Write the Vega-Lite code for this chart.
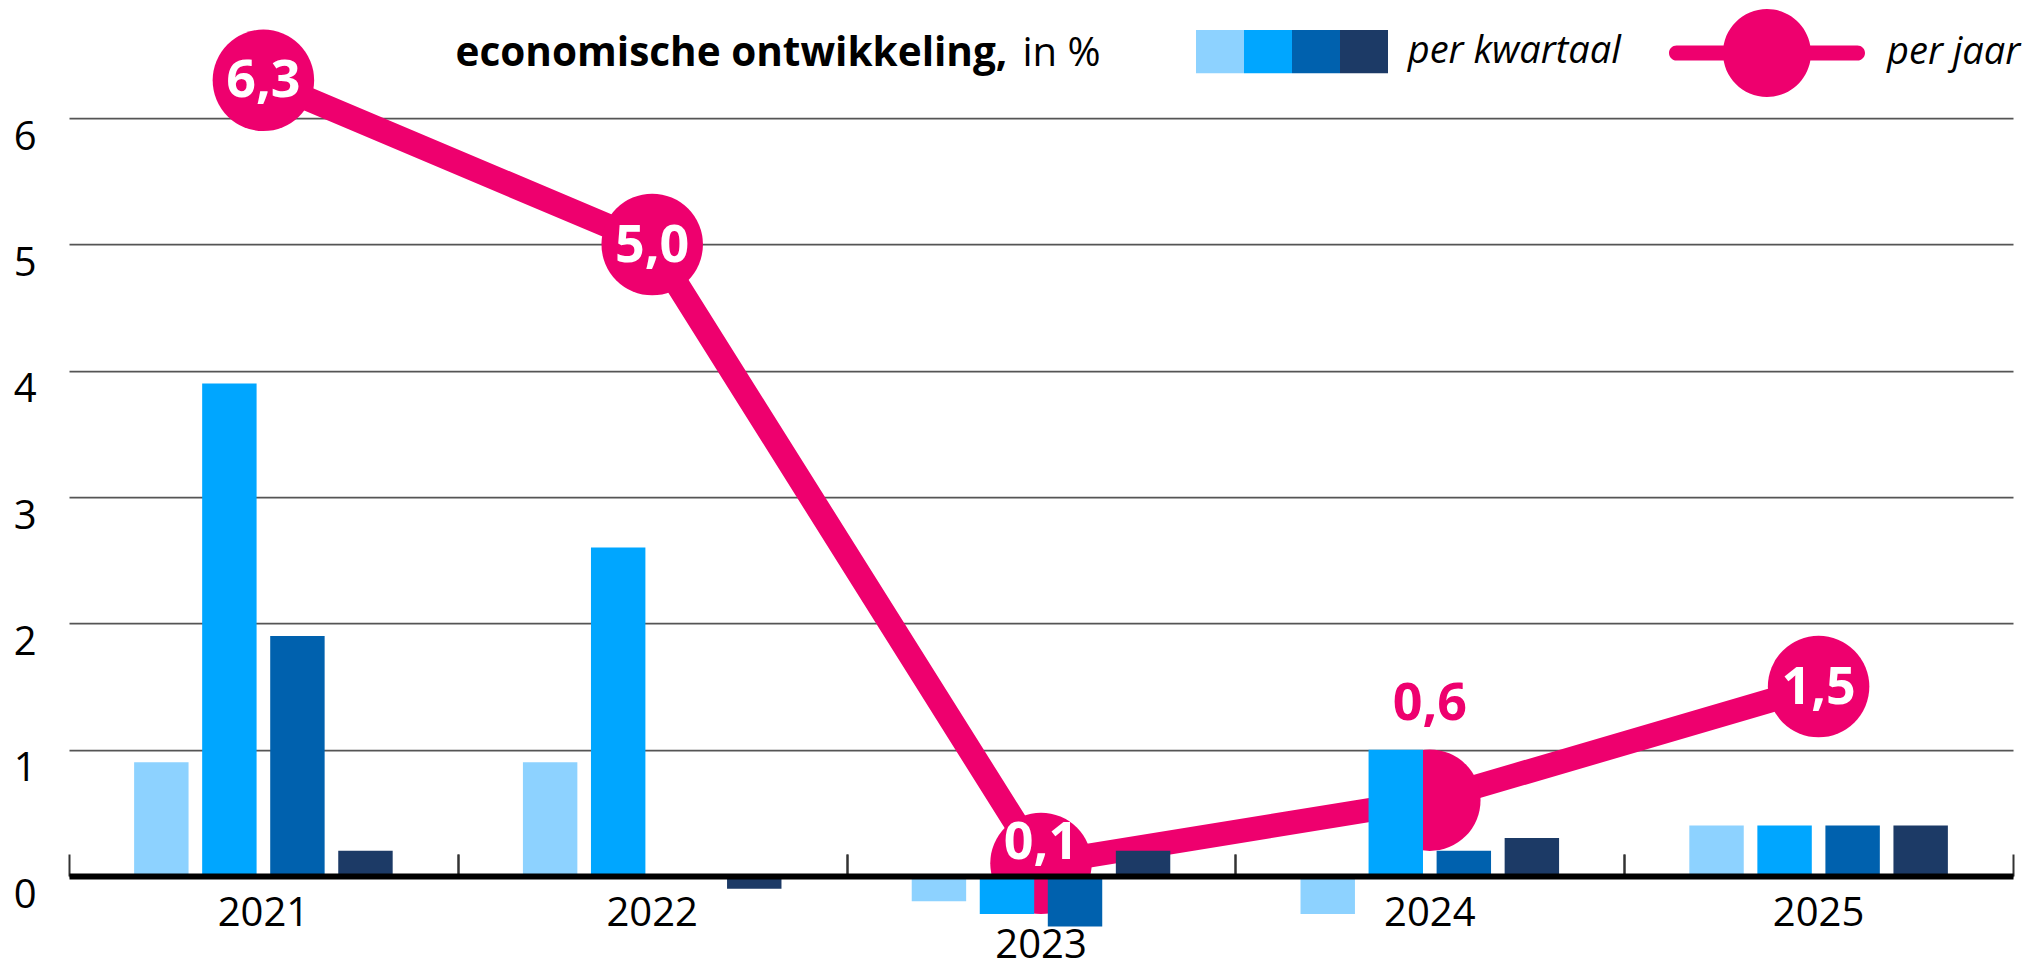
{
  "$schema": "https://vega.github.io/schema/vega-lite/v6.json",
  "autosize": {"type": "none"},
  "padding": {"left": 69, "top": 55.05, "right": 22, "bottom": 30.85},
  "width": 1944,
  "height": 884.1,
  "background": "#ffffff",
  "config": {
    "view": {"stroke": null},
    "font": "Open Sans",
    "locale": {"number": {"decimal": ",", "thousands": ".", "grouping": [3], "currency": ["€ ", ""]}}
  },
  "datasets": {
    "kwartaal": [
      {"jaar": "2021", "kwartaal": "Q1", "waarde": 0.9},
      {"jaar": "2021", "kwartaal": "Q2", "waarde": 3.9},
      {"jaar": "2021", "kwartaal": "Q3", "waarde": 1.9},
      {"jaar": "2021", "kwartaal": "Q4", "waarde": 0.2},
      {"jaar": "2022", "kwartaal": "Q1", "waarde": 0.9},
      {"jaar": "2022", "kwartaal": "Q2", "waarde": 2.6},
      {"jaar": "2022", "kwartaal": "Q3", "waarde": 0.0},
      {"jaar": "2022", "kwartaal": "Q4", "waarde": -0.1},
      {"jaar": "2023", "kwartaal": "Q1", "waarde": -0.2},
      {"jaar": "2023", "kwartaal": "Q2", "waarde": -0.3},
      {"jaar": "2023", "kwartaal": "Q3", "waarde": -0.4},
      {"jaar": "2023", "kwartaal": "Q4", "waarde": 0.2},
      {"jaar": "2024", "kwartaal": "Q1", "waarde": -0.3},
      {"jaar": "2024", "kwartaal": "Q2", "waarde": 1.0},
      {"jaar": "2024", "kwartaal": "Q3", "waarde": 0.2},
      {"jaar": "2024", "kwartaal": "Q4", "waarde": 0.3},
      {"jaar": "2025", "kwartaal": "Q1", "waarde": 0.4},
      {"jaar": "2025", "kwartaal": "Q2", "waarde": 0.4},
      {"jaar": "2025", "kwartaal": "Q3", "waarde": 0.4},
      {"jaar": "2025", "kwartaal": "Q4", "waarde": 0.4}
    ],
    "jaar": [
      {"jaar": "2021", "reeks": "per jaar", "waarde": 6.3},
      {"jaar": "2022", "reeks": "per jaar", "waarde": 5.0},
      {"jaar": "2023", "reeks": "per jaar", "waarde": 0.1},
      {"jaar": "2024", "reeks": "per jaar", "waarde": 0.6},
      {"jaar": "2025", "reeks": "per jaar", "waarde": 1.5}
    ]
  },
  "resolve": {"axis": {"x": "independent"}},
  "encoding": {
    "y": {"field": "waarde", "type": "quantitative",
      "scale": {"domain": [-0.5, 6.5], "nice": false, "zero": false},
      "axis": {"values": [0, 1, 2, 3, 4, 5, 6], "grid": true, "gridColor": "#555555", "gridWidth": 1.8,
        "domain": false, "ticks": false, "labelFont": "Open Sans", "labelFontSize": 40, "labelColor": "#000000",
        "labelAlign": "right", "labelPadding": 33, "labelBaseline": "alphabetic", "labelOffset": 31,
        "title": "in %", "titleX": 953, "titleY": 10, "titleAngle": 0, "titleAlign": "left",
        "titleBaseline": "alphabetic", "titleFont": "Open Sans", "titleFontSize": 40, "titleFontWeight": "normal",
        "titleColor": "#000000"}}
  },
  "layer": [
    {
      "data": {"name": "jaar"},
      "mark": {"type": "line", "color": "#ee006e", "strokeWidth": 24, "strokeJoin": "round", "strokeCap": "round"},
      "encoding": {
        "x": {"field": "jaar", "type": "nominal", "sort": null,
          "scale": {"type": "band", "paddingInner": 0.3, "paddingOuter": 0.15},
          "axis": {"orient": "bottom", "labels": false, "domain": false, "grid": false, "ticks": true,
            "tickSize": -22, "tickColor": "#333333", "tickWidth": 2, "bandPosition": 0, "tickOffset": -58.32,
            "offset": -63.15, "title": null}}
      }
    },
    {
      "data": {"name": "jaar"},
      "mark": {"type": "circle", "opacity": 1, "size": 10300},
      "encoding": {
        "x": {"field": "jaar", "type": "nominal", "sort": null,
          "scale": {"type": "band", "paddingInner": 0.3, "paddingOuter": 0.15},
          "axis": {"orient": "bottom", "labels": false, "domain": false, "grid": false, "ticks": true,
            "tickSize": -22, "tickColor": "#333333", "tickWidth": 2, "bandPosition": 1, "tickOffset": 58.32,
            "offset": -63.15, "title": null}},
        "fill": {"field": "reeks", "type": "nominal", "scale": {"range": ["#ee006e"]},
          "legend": {"orient": "none", "legendX": 1600, "legendY": -100.05, "direction": "horizontal", "title": null,
            "padding": 0,
            "symbolType": "M-0.923,-0.077L0.923,-0.077A0.077,0.077 0 0 1 0.923,0.077L-0.923,0.077A0.077,0.077 0 0 1 -0.923,-0.077Z M-0.449,0A0.449,0.449 0 1 1 0.449,0A0.449,0.449 0 1 1 -0.449,0Z",
            "symbolSize": 38416, "symbolStrokeWidth": 0, "symbolOpacity": 1,
            "labelOffset": 22, "labelFont": "Open Sans", "labelFontStyle": "italic", "labelFontSize": 38,
            "labelColor": "#000000", "labelLimit": 400}}
      }
    },
    {
      "data": {"name": "kwartaal"},
      "mark": {"type": "bar"},
      "encoding": {
        "x": {"field": "jaar", "type": "nominal", "sort": null,
          "scale": {"type": "band", "paddingInner": 0.3, "paddingOuter": 0.15},
          "axis": {"orient": "bottom", "labels": true, "labelAngle": 0, "labelFont": "Open Sans", "labelFontSize": 40,
            "labelColor": "#000000", "labelPadding": 49,
            "labelBaseline": {"condition": {"test": "datum.value == '2023'", "value": "top"}, "value": "alphabetic"},
            "domain": true, "domainColor": "#000000", "domainWidth": 6, "ticks": false, "tickSize": 0, "grid": false,
            "offset": -63.15, "zindex": 1,
            "title": "economische ontwikkeling,", "titleX": 386, "titleY": -811, "titleAlign": "left",
            "titleBaseline": "alphabetic", "titleFont": "Open Sans", "titleFontSize": 40.5, "titleFontWeight": "bold",
            "titleColor": "#000000"}},
        "xOffset": {"field": "kwartaal", "type": "nominal", "sort": ["Q1", "Q2", "Q3", "Q4"],
          "scale": {"paddingInner": 0.2, "paddingOuter": 0.1}},
        "color": {"field": "kwartaal", "type": "nominal",
          "scale": {"domain": ["Q1", "Q2", "Q3", "Q4"], "range": ["#8dd2ff", "#00a6ff", "#0061ae", "#1c3a66"]},
          "legend": {"orient": "none", "legendX": 1127, "legendY": -27.55, "direction": "horizontal", "title": null,
            "padding": 0, "columnPadding": 0,
            "symbolType": "M-1,-0.9L1,-0.9L1,0.9L-1,0.9Z", "symbolSize": 2304, "symbolStrokeWidth": 0, "symbolOpacity": 1,
            "labelOffset": 0, "labelExpr": "datum.label == 'Q4' ? '\u200b\u00a0\u00a0per kwartaal' : ''",
            "labelFont": "Open Sans", "labelFontStyle": "italic", "labelFontSize": 38, "labelColor": "#000000",
            "labelLimit": 400}}
      }
    },
    {
      "data": {"name": "jaar"},
      "transform": [{"filter": "datum.jaar != '2024' && datum.jaar != '2023'"}],
      "mark": {"type": "text", "color": "#ffffff", "font": "Open Sans", "fontWeight": "bold", "fontSize": 52,
        "align": "center", "baseline": "alphabetic", "dy": 17},
      "encoding": {
        "x": {"field": "jaar", "type": "nominal", "sort": null,
          "scale": {"type": "band", "paddingInner": 0.3, "paddingOuter": 0.15}, "axis": null},
        "text": {"field": "waarde", "type": "quantitative", "format": ".1f"}
      }
    },
    {
      "data": {"name": "jaar"},
      "transform": [{"filter": "datum.jaar == '2023'"}],
      "mark": {"type": "text", "color": "#ffffff", "font": "Open Sans", "fontWeight": "bold", "fontSize": 52,
        "align": "center", "baseline": "alphabetic", "dy": -4},
      "encoding": {
        "x": {"field": "jaar", "type": "nominal", "sort": null,
          "scale": {"type": "band", "paddingInner": 0.3, "paddingOuter": 0.15}, "axis": null},
        "text": {"field": "waarde", "type": "quantitative", "format": ".1f"}
      }
    },
    {
      "data": {"name": "jaar"},
      "transform": [{"filter": "datum.jaar == '2024'"}],
      "mark": {"type": "text", "color": "#ee006e", "font": "Open Sans", "fontWeight": "bold", "fontSize": 52,
        "align": "center", "baseline": "alphabetic", "dy": -80},
      "encoding": {
        "x": {"field": "jaar", "type": "nominal", "sort": null,
          "scale": {"type": "band", "paddingInner": 0.3, "paddingOuter": 0.15}, "axis": null},
        "text": {"field": "waarde", "type": "quantitative", "format": ".1f"}
      }
    }
  ]
}
